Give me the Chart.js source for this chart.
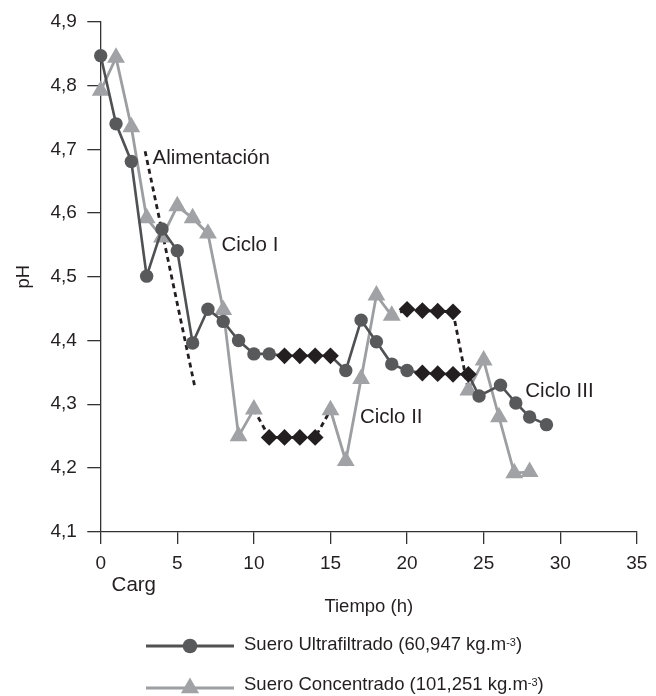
<!DOCTYPE html>
<html>
<head>
<meta charset="utf-8">
<script src="https://cdn.jsdelivr.net/npm/chart.js@4.4.0/dist/chart.umd.min.js"></script>
<style>
html,body{margin:0;padding:0;background:#fff;}
#wrap{width:656px;height:696px;}
</style>
</head>
<body>
<div id="wrap"><canvas id="c" width="656" height="696"></canvas></div>
<script>
// ---- Data ----
const horasUF = [0,1,2,3,4,5,6,7,8,9,10,11,12,13,14,15,16,17,18,19,20,21,22,23,24,24.7,26.1,27.1,28,29.1];
const phUF    = [4.847,4.740,4.681,4.501,4.575,4.541,4.396,4.449,4.430,4.400,4.379,4.379,
                 4.376,4.376,4.376,4.376,4.353,4.432,4.398,4.363,4.353,4.349,4.348,4.347,4.347,
                 4.313,4.330,4.302,4.280,4.268];
const horasCicloUF = [12,13,14,15,21,22,23,24];

const horasSC = [0,1,2,3,4,5,6,7,8,9,10,11,12,13,14,15,16,17,18,19,20,21,22,23,24,25,26,27,28];
const phSC    = [4.792,4.844,4.735,4.592,4.562,4.611,4.592,4.568,4.448,4.250,4.292,
                 4.248,4.248,4.248,4.248,4.291,4.211,4.340,4.471,4.439,
                 4.449,4.447,4.446,4.445,4.322,4.369,4.280,4.192,4.194];
const horasCicloSC = [11,12,13,14,20,21,22,23];

const lineaAlimentacion = [{x:2.9, y:4.697}, {x:6.13, y:4.329}];

const etiquetasX = ['0','5','10','15','20','25','30','35'];
const etiquetasY = ['4,1','4,2','4,3','4,4','4,5','4,6','4,7','4,8','4,9'];

const nombres = ['Suero Ultrafiltrado (60,947 kg.m\u207B\u00B3)', 'Suero Concentrado (101,251 kg.m\u207B\u00B3)'];

// ---- Styles ----
const FONT = '"Liberation Sans", Arial, Helvetica, sans-serif';
const NEGRO = '#231f20';
const OSCURO = '#58595b';
const OSCURO_LINEA = '#505153';
const GRIS = '#a0a2a5';
const GRIS_LINEA = '#9c9ea1';

Chart.defaults.font.family = FONT;
Chart.defaults.color = NEGRO;

const enCicloUF = i => i !== undefined && horasCicloUF.includes(horasUF[i]);
const enCicloSC = i => i !== undefined && horasCicloSC.includes(horasSC[i]);

const anotacionesPlugin = {
  id: 'anotaciones',
  afterDatasetsDraw(chart, args, opts) {
    const {ctx, scales, chartArea} = chart;
    ctx.save();
    ctx.font = opts.font;
    ctx.fillStyle = opts.color;
    ctx.textBaseline = 'middle';
    ctx.textAlign = 'left';
    opts.items.forEach(it => {
      const px = scales.x.getPixelForValue(it.x);
      const py = (it.y !== undefined) ? scales.y.getPixelForValue(it.y) : chartArea.bottom + it.dy;
      ctx.fillText(it.text, px, py);
    });
    ctx.restore();
  }
};

const supMap = {'\u207B':'-','\u00B3':'3','\u00B2':'2','\u00B9':'1'};
const leyendaPlugin = {
  id: 'leyenda',
  afterDraw(chart, args, opts) {
    const ctx = chart.ctx;
    ctx.save();
    opts.items.forEach(it => {
      const ds = chart.data.datasets[it.dataset];
      const y = it.y;
      ctx.strokeStyle = ds.borderColor;
      ctx.lineWidth = opts.lineWidth;
      ctx.setLineDash([]);
      ctx.beginPath();
      ctx.moveTo(opts.x0, y);
      ctx.lineTo(opts.x1, y);
      ctx.stroke();
      ctx.fillStyle = it.color;
      Chart.helpers.drawPoint(ctx, {pointStyle: it.style, radius: it.radius, rotation: 0, borderWidth: 0}, (opts.x0 + opts.x1) / 2, y);
      const parts = ds.label.split(/([\u207B\u00B3\u00B2\u00B9]+)/);
      let cx = opts.textX;
      const ty = y + it.dy;
      ctx.fillStyle = NEGRO;
      ctx.textAlign = 'left';
      parts.forEach((p, k) => {
        if (k % 2 === 1) {
          const s = p.split('').map(ch => supMap[ch] || ch).join('');
          ctx.font = opts.supFont;
          ctx.textBaseline = 'alphabetic';
          ctx.fillText(s, cx, ty + 0.5);
          cx += ctx.measureText(s).width;
        } else if (p.length) {
          ctx.font = opts.font;
          ctx.textBaseline = 'middle';
          ctx.fillText(p, cx, ty);
          cx += ctx.measureText(p).width;
        }
      });
    });
    ctx.restore();
  }
};

new Chart(document.getElementById('c'), {
  type: 'line',
  data: {
    datasets: [
      {
        label: nombres[0],
        data: horasUF.map((h, i) => ({x: h, y: phUF[i]})),
        borderColor: OSCURO_LINEA,
        borderWidth: 2.6,
        tension: 0,
        clip: false,
        pointStyle: c => enCicloUF(c.dataIndex) ? 'rectRot' : 'circle',
        pointRadius: c => enCicloUF(c.dataIndex) ? 8.4 : 6.7,
        pointBackgroundColor: c => enCicloUF(c.dataIndex) ? NEGRO : OSCURO,
        pointBorderWidth: 0
      },
      {
        label: nombres[1],
        data: horasSC.map((h, i) => ({x: h, y: phSC[i]})),
        borderColor: GRIS_LINEA,
        borderWidth: 2.8,
        tension: 0,
        clip: false,
        pointStyle: c => enCicloSC(c.dataIndex) ? 'rectRot' : 'triangle',
        pointRadius: c => enCicloSC(c.dataIndex) ? 8.4 : 10.3,
        pointBackgroundColor: c => enCicloSC(c.dataIndex) ? NEGRO : GRIS,
        pointBorderWidth: 0,
        segment: {
          borderColor: c => (enCicloSC(c.p0DataIndex) || enCicloSC(c.p1DataIndex)) ? NEGRO : undefined,
          borderDash: c => (enCicloSC(c.p0DataIndex) || enCicloSC(c.p1DataIndex)) ? [5, 4] : undefined,
          borderWidth: c => (enCicloSC(c.p0DataIndex) || enCicloSC(c.p1DataIndex)) ? 2.8 : undefined
        }
      },
      {
        label: 'Alimentación',
        data: lineaAlimentacion,
        borderColor: NEGRO,
        borderWidth: 2.8,
        borderDash: [5, 4],
        pointRadius: 0,
        clip: false
      }
    ]
  },
  options: {
    responsive: false,
    animation: false,
    devicePixelRatio: 1,
    events: [],
    layout: {padding: {left: 12.9, right: 13.3, top: 20.7, bottom: 77.9}},
    plugins: {
      legend: {display: false},
      tooltip: {enabled: false},
      anotaciones: {
        font: '20.5px ' + FONT,
        color: NEGRO,
        items: [
          {text: 'Alimentación', x: 3.38, y: 4.686},
          {text: 'Ciclo I', x: 7.88, y: 4.550},
          {text: 'Ciclo II', x: 16.92, y: 4.279},
          {text: 'Ciclo III', x: 27.72, y: 4.320},
          {text: 'Carg', x: 0.71, dy: 53.5}
        ]
      },
      leyenda: {
        x0: 146, x1: 234, textX: 244, lineWidth: 3,
        font: '18.5px ' + FONT,
        supFont: '11px ' + FONT,
        items: [
          {dataset: 0, y: 646, dy: -1, style: 'circle', radius: 7.3, color: OSCURO},
          {dataset: 1, y: 688, dy: -3, style: 'triangle', radius: 10.5, color: GRIS}
        ]
      }
    },
    scales: {
      x: {
        type: 'linear',
        min: 0, max: 35,
        afterFit: s => { s.height = 86.4; },
        ticks: {
          stepSize: 5,
          padding: 8.6,
          font: {size: 19},
          color: NEGRO,
          maxRotation: 0,
          callback: v => etiquetasX[Math.round(v / 5)]
        },
        grid: {drawOnChartArea: false, drawTicks: true, tickLength: 12.3, color: '#333', lineWidth: 1.3},
        border: {display: true, color: '#333', width: 1.3},
        title: {display: true, text: 'Tiempo (h)', font: {size: 18.5}, color: NEGRO, padding: {top: 0, bottom: 0}}
      },
      y: {
        type: 'linear',
        min: 4.1, max: 4.9,
        afterFit: s => { s.width = 87.8; },
        ticks: {
          stepSize: 0.1,
          padding: 10.5,
          font: {size: 19},
          color: NEGRO,
          callback: v => etiquetasY[Math.round((v - 4.1) * 10)]
        },
        grid: {drawOnChartArea: false, drawTicks: true, tickLength: 13.4, color: '#333', lineWidth: 1.3},
        border: {display: true, color: '#333', width: 1.3},
        title: {display: true, text: 'pH', font: {size: 18.5}, color: NEGRO, padding: {top: 0, bottom: 0}}
      }
    }
  },
  plugins: [anotacionesPlugin, leyendaPlugin]
});
</script>
</body>
</html>
